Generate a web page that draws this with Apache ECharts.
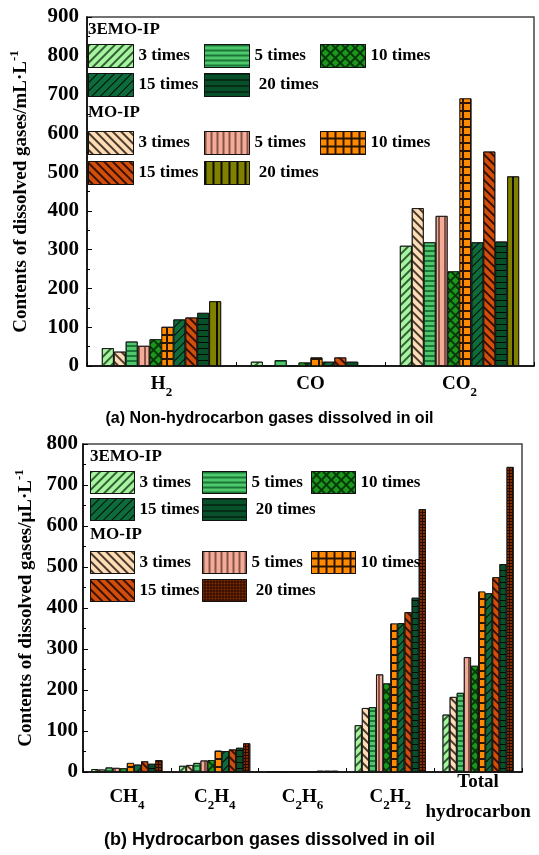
<!DOCTYPE html>
<html><head><meta charset="utf-8">
<script src="https://cdn.jsdelivr.net/npm/echarts@6/dist/echarts.min.js"></script>
<style>html,body{margin:0;padding:0;background:#fff}#c{width:539px;height:855px}</style>
</head><body><div id="c"></div>
<script>
// ---------- data ----------
const categoriesA = ['H2', 'CO', 'CO2'];
const categoriesB = ['CH4', 'C2H4', 'C2H6', 'C2H2', 'Total\nhydrocarbon'];
const timeNames = ['3 times', '5 times', '10 times', '15 times', ' 20 times'];
const groupNames = ['3EMO-IP', 'MO-IP'];
const yTicksA = [0, 100, 200, 300, 400, 500, 600, 700, 800, 900];
const yTicksB = [0, 100, 200, 300, 400, 500, 600, 700, 800];

// (a) non-hydrocarbon gases: values per category H2, CO, CO2
const emoA3 = [46, 11, 310];
const moA3 = [37, 1, 407];
const emoA5 = [63, 15, 319];
const moA5 = [52, 2, 387];
const emoA10 = [69, 9, 244];
const moA10 = [101, 22, 690];
const emoA15 = [120, 11, 319];
const moA15 = [125, 22, 553];
const emoA20 = [137, 11, 321];
const moA20 = [167, 2, 489];

// (b) hydrocarbon gases: values per category CH4, C2H4, C2H6, C2H2, Total
const emoB3 = [7, 15, 2, 114, 140];
const moB3 = [6, 17, 2, 156, 183];
const emoB5 = [11, 22, 1, 158, 193];
const moB5 = [10, 28, 2, 238, 280];
const emoB10 = [9, 29, 2, 216, 259];
const moB10 = [22, 52, 2, 362, 440];
const emoB15 = [18, 51, 2, 363, 436];
const moB15 = [26, 55, 3, 390, 475];
const emoB20 = [20, 59, 3, 425, 507];
const moB20 = [29, 70, 3, 641, 744];

const dataA = [[emoA3, emoA5, emoA10, emoA15, emoA20], [moA3, moA5, moA10, moA15, moA20]];
const dataB = [[emoB3, emoB5, emoB10, emoB15, emoB20], [moB3, moB5, moB10, moB15, moB20]];

// ---------- styles ----------
const SERIF = '"Liberation Serif","Times New Roman",serif';
const SANS = '"Liberation Sans",Arial,sans-serif';
function hatch(fill, line, rot, w, gap) {
  return { color: fill, decal: { symbol: 'rect', symbolSize: 1, color: line, dashArrayX: [1, 0], dashArrayY: [w, gap], rotation: rot } };
}
function hlines(fill, line, w, gap) {
  return { color: fill, decal: { symbol: 'rect', symbolSize: 1, color: line, dashArrayX: [1, 0], dashArrayY: [w, gap], rotation: 0 } };
}
function vlines(fill, line, w, gap) {
  return { color: fill, decal: { symbol: 'rect', symbolSize: 1, color: line, dashArrayX: [w, gap], dashArrayY: [1, 0], rotation: 0 } };
}
function cells(lineColor, cellColor, cell, line, rot) {
  return { color: lineColor, decal: { symbol: 'rect', symbolSize: 1, color: cellColor, dashArrayX: [cell, line], dashArrayY: [cell, line], rotation: rot || 0 } };
}
const Q = Math.PI / 4;
const stylesEMO = [
  hatch('#A6F4A0', 'rgba(30,70,30,0.85)', -Q, 1.1, 3.2),
  hlines('#4FC86C', 'rgba(20,110,50,0.9)', 1.2, 3),
  cells('#053a08', '#1C961C', 4.2, 1.3, Q),
  hatch('#0E6C3C', 'rgba(0,0,0,0.9)', -Q, 1, 4.5),
  hlines('#07502A', 'rgba(0,0,0,0.9)', 1, 5)
];
const stylesMO_A = [
  hatch('#FDDCB6', 'rgba(40,30,20,0.85)', Q, 1.1, 3.2),
  vlines('#F2AC98', 'rgba(110,60,50,0.8)', 1.2, 3.2),
  cells('#2a1500', '#FF8A00', 5.5, 1.3, 0),
  hatch('#D24E0A', 'rgba(40,10,0,0.9)', Q, 1.1, 4),
  vlines('#7F7F00', 'rgba(0,0,0,0.9)', 1.2, 5.5)
];
const stylesMO_B = stylesMO_A.slice(0, 4).concat([cells('#2a0a00', '#822E00', 2, 1, 0)]);

function subLabel(v) { return v.replace(/([A-Za-z])(\d)/g, '$1{s|$2}'); }
const labelRich = { s: { fontFamily: SERIF, fontWeight: 'bold', fontSize: 13, color: '#000', verticalAlign: 'bottom', lineHeight: 10 } };
const nameRich = { sup: { fontFamily: SERIF, fontWeight: 'bold', fontSize: 13, color: '#000', verticalAlign: 'top', lineHeight: 10 } };

// ---------- build ----------
const series = [];
['a', 'b'].forEach((chart, ci) => {
  const data = ci === 0 ? dataA : dataB;
  for (let t = 0; t < 5; t++) {
    for (let g = 0; g < 2; g++) {
      const st = g === 0 ? stylesEMO[t] : (ci === 0 ? stylesMO_A[t] : stylesMO_B[t]);
      series.push({
        type: 'bar',
        name: chart + '|' + g + '|' + timeNames[t],
        xAxisIndex: ci, yAxisIndex: ci,
        data: data[g][t],
        barGap: '0%',
        barCategoryGap: ci === 0 ? '20%' : '19%',
        itemStyle: { color: st.color, decal: st.decal, borderColor: '#111', borderWidth: 0.8 },
        emphasis: { disabled: true },
        animation: false
      });
    }
  }
});

const legendPos = {
  a: { cols: [88, 204, 320], rows: [44, 131], w: 45, h: 23, gap: [5, 6] },
  b: { cols: [90, 202, 311], rows: [471, 551], w: 44, h: 22, gap: [4, 5] }
};
const colItems = [[0, 3], [1, 4], [2]];
const legends = [];
['a', 'b'].forEach(chart => {
  const p = legendPos[chart];
  for (let g = 0; g < 2; g++) {
    colItems.forEach((items, c) => {
      legends.push({
        orient: 'vertical', left: p.cols[c], top: p.rows[g], padding: 0,
        itemWidth: p.w, itemHeight: p.h, itemGap: p.gap[g],
        selectedMode: false, icon: 'rect',
        data: items.map(t => chart + '|' + g + '|' + timeNames[t]),
        formatter: n => n.split('|')[2],
        textStyle: { fontFamily: SERIF, fontWeight: 'bold', fontSize: 17, color: '#000', padding: [0, 0, 0, 0] },
        itemStyle: { borderColor: '#111', borderWidth: 1 }
      });
    });
  }
});

const titles = [
  { text: '(a) Non-hydrocarbon gases dissolved in oil', left: 'center', top: 411, padding: 0, textStyle: { fontFamily: SANS, fontWeight: 'bold', fontSize: 16, color: '#000' } },
  { text: '(b) Hydrocarbon gases dissolved in oil', left: 'center', top: 831, padding: 0, textStyle: { fontFamily: SANS, fontWeight: 'bold', fontSize: 18, color: '#000' } },
  { text: groupNames[0], left: 88, top: 21, padding: 0, textStyle: { fontFamily: SERIF, fontWeight: 'bold', fontSize: 17, color: '#000' } },
  { text: groupNames[1], left: 88, top: 104, padding: 0, textStyle: { fontFamily: SERIF, fontWeight: 'bold', fontSize: 17, color: '#000' } },
  { text: groupNames[0], left: 90, top: 448, padding: 0, textStyle: { fontFamily: SERIF, fontWeight: 'bold', fontSize: 17, color: '#000' } },
  { text: groupNames[1], left: 90, top: 526, padding: 0, textStyle: { fontFamily: SERIF, fontWeight: 'bold', fontSize: 17, color: '#000' } }
];

function yAxis(gi, ticks, name, gap, margin) {
  return {
    gridIndex: gi, type: 'value', min: ticks[0], max: ticks[ticks.length - 1], interval: ticks[1] - ticks[0],
    axisLine: { show: true, lineStyle: { color: '#000', width: 1.5 } },
    axisTick: { show: true, inside: true, length: 5, lineStyle: { color: '#000', width: 1 } },
    minorTick: { show: true, splitNumber: 2, length: 3, lineStyle: { color: '#000', width: 1 } },
    splitLine: { show: false },
    axisLabel: { fontFamily: SERIF, fontWeight: 'bold', fontSize: 21, color: '#000', margin: margin },
    name: name, nameLocation: 'middle', nameGap: gap, nameMoveOverlap: false,
    nameTextStyle: { fontFamily: SERIF, fontWeight: 'bold', fontSize: 19, color: '#000', lineHeight: 26, rich: nameRich }
  };
}
function xAxis(gi, cats, margin) {
  return {
    gridIndex: gi, type: 'category', data: cats,
    axisLine: { show: true, lineStyle: { color: '#000', width: 1.5 } },
    axisTick: { show: true, inside: true, length: 4, lineStyle: { color: '#000' } },
    axisLabel: { formatter: subLabel, rich: labelRich, fontFamily: SERIF, fontWeight: 'bold', fontSize: 19, color: '#000', margin: margin, verticalAlign: 'middle', lineHeight: 30, interval: 0 },
    splitLine: { show: false }
  };
}

const option = {
  backgroundColor: '#fff',
  animation: false,
  title: titles,
  legend: legends,
  grid: [
    { left: 81, right: 5, top: 17, bottom: 489, show: true, borderColor: '#444', borderWidth: 1.5, backgroundColor: 'transparent' },
    { left: 83, right: 17, top: 444, bottom: 83, show: true, borderColor: '#444', borderWidth: 1.5, backgroundColor: 'transparent' }
  ],
  xAxis: [xAxis(0, categoriesA, 18), xAxis(1, categoriesB, 25)],
  yAxis: [
    yAxis(0, yTicksA, 'Contents of dissolved gases/mL·L{sup|-1}', 53, 8),
    yAxis(1, yTicksB, 'Contents of dissolved gases/μL·L{sup|-1}', 44, 5)
  ],
  series: series
};
const chart = echarts.init(document.getElementById('c'), null, { renderer: 'canvas' });
chart.setOption(option);
</script></body></html>
